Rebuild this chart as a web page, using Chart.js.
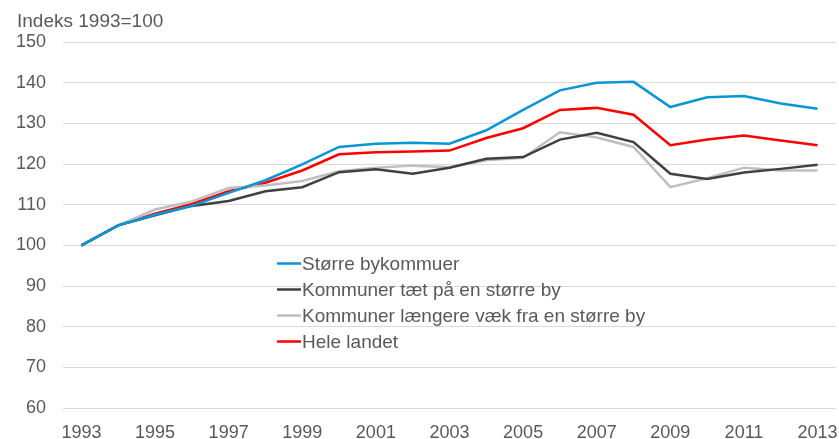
<!DOCTYPE html>
<html><head><meta charset="utf-8">
<script src="https://cdn.jsdelivr.net/npm/chart.js@4"></script>
<style>html,body{margin:0;padding:0;background:#fff;}#wrap{width:839px;height:439px;position:relative;}</style>
</head><body><div id="wrap"><canvas id="c" width="839" height="439"></canvas></div>
<script>
const years = ['1993','1994','1995','1996','1997','1998','1999','2000','2001','2002','2003','2004','2005','2006','2007','2008','2009','2010','2011','2012','2013'];
const storreBy = [100,104.9,107.5,109.7,112.9,116.0,119.9,124.2,125.0,125.2,125.0,128.3,133.3,138.1,140.0,140.2,134.0,136.4,136.7,134.9,133.6];
const taetPaa = [100,104.9,107.4,109.7,110.9,113.3,114.3,118.0,118.7,117.6,119.1,121.3,121.7,126.0,127.7,125.4,117.6,116.3,117.9,118.8,119.8];
const laengereVaek = [100,104.9,108.8,110.8,114.1,114.7,115.8,118.2,119.1,119.6,119.2,120.9,121.5,127.8,126.5,124.2,114.3,116.5,119.1,118.4,118.4];
const heleLandet = [100,104.9,107.8,110.2,113.3,115.4,118.4,122.4,122.9,123.1,123.3,126.4,128.8,133.3,133.8,132.1,124.6,126.0,127.0,125.8,124.6];
const yTicks = [60,70,80,90,100,110,120,130,140,150];
const seriesNames = ['Større bykommuer','Kommuner tæt på en større by','Kommuner længere væk fra en større by','Hele landet'];
const colors = ['#0996d6','#404040','#bfbfbf','#ff0000'];
const FONT = '"Liberation Sans", Arial, sans-serif';
const TXT = '#595959';

const legendPlugin = {
  id: 'inLegend',
  afterDraw(chart) {
    const ctx = chart.ctx;
    ctx.save();
    ctx.font = '19px ' + FONT;
    ctx.textBaseline = 'middle';
    chart.data.datasets.forEach((ds, i) => {
      const y = 263.5 + i * 26;
      ctx.strokeStyle = ds.borderColor;
      ctx.lineWidth = 2.5;
      ctx.beginPath(); ctx.moveTo(277, y); ctx.lineTo(301, y); ctx.stroke();
      ctx.fillStyle = TXT;
      ctx.fillText(ds.label, 302, y + 1);
    });
    ctx.font = '19px ' + FONT;
    ctx.textBaseline = 'alphabetic';
    ctx.fillText('Indeks 1993=100', 17, 27);
    ctx.restore();
  }
};

new Chart(document.getElementById('c'), {
  type: 'line',
  data: {
    labels: years,
    datasets: [storreBy, taetPaa, laengereVaek, heleLandet].map((d, i) => ({
      label: seriesNames[i], data: d, borderColor: colors[i], backgroundColor: colors[i],
      borderWidth: 2.5, pointRadius: 0, tension: 0, fill: false
    }))
  },
  options: {
    responsive: false, animation: false,
    layout: { padding: { top: 42, right: 3, left: 0, bottom: 0 } },
    plugins: { legend: { display: false }, tooltip: { enabled: false } },
    scales: {
      x: {
        offset: true,
        grid: { display: false, drawTicks: false },
        border: { display: false },
        ticks: { color: TXT, font: { family: FONT, size: 18 }, padding: 14, maxRotation: 0, autoSkip: false,
          callback: function(v, i) { return i % 2 === 0 ? this.getLabelForValue(v) : ''; } },
        afterFit(s) { s.height = 31; s.paddingLeft = 0; s.paddingRight = 0; }
      },
      y: {
        min: 60, max: 150,
        afterBuildTicks(s) { s.ticks = yTicks.map(v => ({ value: v })); },
        grid: { color: '#d9d9d9', lineWidth: 1, drawTicks: false },
        border: { display: false },
        ticks: { color: TXT, font: { family: FONT, size: 18 }, padding: 17 },
        afterFit(s) { s.width = 63; s.paddingTop = 0; s.paddingBottom = 0; }
      }
    }
  },
  plugins: [legendPlugin]
});
</script></body></html>
